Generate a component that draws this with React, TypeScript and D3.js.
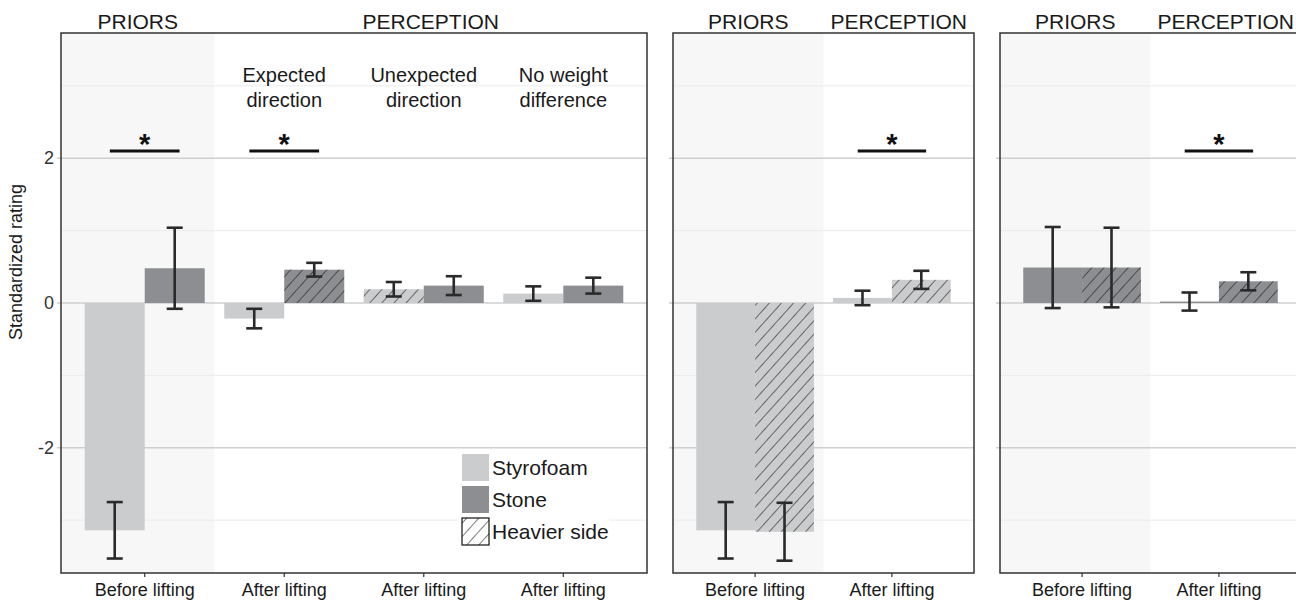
import { useEffect, useRef } from "react";
import * as d3 from "d3";

// panel 1: object type x phase
const P1_CATS = ["Before lifting", "After lifting", "After lifting", "After lifting"];
const P1_SUB = ["", "Expected\ndirection", "Unexpected\ndirection", "No weight\ndifference"];
const P1_STYRO = [-3.14, -0.215, 0.19, 0.13];
const P1_STYRO_SE = [0.39, 0.135, 0.1, 0.1];
const P1_STONE = [0.48, 0.46, 0.24, 0.24];
const P1_STONE_SE = [0.56, 0.095, 0.13, 0.11];
const P1_STYRO_HATCH = [false, false, true, false];
const P1_STONE_HATCH = [false, true, false, false];
const P1_SIG = [0, 1];

// panel 2: styrofoam, light vs heavier side
const P2_CATS = ["Before lifting", "After lifting"];
const P2_LIGHT = [-3.14, 0.07];
const P2_LIGHT_SE = [0.39, 0.1];
const P2_HEAVY = [-3.16, 0.32];
const P2_HEAVY_SE = [0.4, 0.125];
const P2_SIG = [1];

// panel 3: stone, light vs heavier side
const P3_CATS = ["Before lifting", "After lifting"];
const P3_LIGHT = [0.49, 0.02];
const P3_LIGHT_SE = [0.56, 0.125];
const P3_HEAVY = [0.49, 0.3];
const P3_HEAVY_SE = [0.55, 0.125];
const P3_SIG = [1];

const Y_TICKS = [-2, 0, 2];
const Y_MINOR = [-3, -1, 1, 3];
const SIG_Y = 2.1;
const LEGEND = ["Styrofoam", "Stone", "Heavier side"];

const STYRO = "#cbccce";
const STONE = "#8d8e92";
const FONT = "'Liberation Sans', Arial, sans-serif";

type Bar = { cat: number; slot: number; v: number; se: number; fill: string; hatch: boolean };

export default function App() {
  const ref = useRef<SVGSVGElement>(null);

  useEffect(() => {
    const el = ref.current;
    if (!el) return;
    const W = 1296, H = 601, top = 33, bottom = 573;
    const svg = d3.select(el).attr("width", W).attr("height", H);
    svg.selectAll("*").remove();

    const defs = svg.append("defs");
    const pat = defs.append("pattern").attr("id", "hatch").attr("patternUnits", "userSpaceOnUse")
      .attr("width", 9).attr("height", 9).attr("patternTransform", "rotate(42)");
    pat.append("line").attr("x1", 0).attr("y1", 0).attr("x2", 0).attr("y2", 9)
      .attr("stroke", "#111").attr("stroke-width", 1.1);

    const y = d3.scaleLinear().domain([-3.73, 3.73]).range([bottom, top]);

    const mk = (cats: number, a: number[], ae: number[], af: string, ah: boolean[], b: number[], be: number[], bf: string, bh: boolean[]): Bar[] =>
      d3.range(cats).flatMap((i) => [
        { cat: i, slot: 0, v: a[i], se: ae[i], fill: af, hatch: ah[i] },
        { cat: i, slot: 1, v: b[i], se: be[i], fill: bf, hatch: bh[i] },
      ]);

    const panels = [
      { left: 61, right: 647, cats: P1_CATS, sub: P1_SUB, sig: P1_SIG, labels: true,
        bars: mk(4, P1_STYRO, P1_STYRO_SE, STYRO, P1_STYRO_HATCH, P1_STONE, P1_STONE_SE, STONE, P1_STONE_HATCH) },
      { left: 673, right: 974, cats: P2_CATS, sub: [], sig: P2_SIG, labels: false,
        bars: mk(2, P2_LIGHT, P2_LIGHT_SE, STYRO, [false, false], P2_HEAVY, P2_HEAVY_SE, STYRO, [true, true]) },
      { left: 1000, right: 1301, cats: P3_CATS, sub: [], sig: P3_SIG, labels: false,
        bars: mk(2, P3_LIGHT, P3_LIGHT_SE, STONE, [false, false], P3_HEAVY, P3_HEAVY_SE, STONE, [true, true]) },
    ];

    panels.forEach((p) => {
      const x = d3.scaleBand<number>().domain(d3.range(p.cats.length)).range([p.left, p.right])
        .paddingInner(0.14).paddingOuter(0.17);
      const step = x.step();
      const cx = (i: number) => (x(i) ?? 0) + x.bandwidth() / 2;
      const sub = d3.scaleBand<number>().domain([0, 1]).range([0, x.bandwidth()]);
      const split = cx(0) + step / 2;
      const g = svg.append("g");

      g.append("rect").attr("x", p.left).attr("y", top).attr("width", split - p.left).attr("height", bottom - top).attr("fill", "#f7f7f7");

      g.selectAll("line.minor").data(Y_MINOR).join("line")
        .attr("x1", p.left).attr("x2", p.right).attr("y1", (d) => y(d)).attr("y2", (d) => y(d))
        .attr("stroke", "#ebebeb").attr("stroke-width", 1);
      g.selectAll("line.major").data(Y_TICKS).join("line")
        .attr("x1", p.left - 4).attr("x2", p.right).attr("y1", (d) => y(d)).attr("y2", (d) => y(d))
        .attr("stroke", "#cfcfcf").attr("stroke-width", 1.3);

      // bars
      const bx = (d: Bar) => (x(d.cat) ?? 0) + (sub(d.slot) ?? 0);
      const by = (d: Bar) => Math.min(y(d.v), y(0));
      const bh = (d: Bar) => Math.abs(y(d.v) - y(0));
      g.selectAll("rect.bar").data(p.bars).join("rect")
        .attr("x", bx).attr("y", by).attr("width", sub.bandwidth()).attr("height", bh).attr("fill", (d) => d.fill);
      g.selectAll("rect.hatch").data(p.bars.filter((d) => d.hatch)).join("rect")
        .attr("x", bx).attr("y", by).attr("width", sub.bandwidth()).attr("height", bh).attr("fill", "url(#hatch)");

      // error bars
      const ex = (d: Bar) => bx(d) + sub.bandwidth() / 2;
      const eg = g.selectAll("g.err").data(p.bars).join("g").attr("stroke", "#2a2a2a").attr("stroke-width", 2.6);
      eg.append("line").attr("x1", ex).attr("x2", ex).attr("y1", (d) => y(d.v + d.se)).attr("y2", (d) => y(d.v - d.se));
      eg.append("line").attr("x1", (d) => ex(d) - 8).attr("x2", (d) => ex(d) + 8).attr("y1", (d) => y(d.v + d.se)).attr("y2", (d) => y(d.v + d.se));
      eg.append("line").attr("x1", (d) => ex(d) - 8).attr("x2", (d) => ex(d) + 8).attr("y1", (d) => y(d.v - d.se)).attr("y2", (d) => y(d.v - d.se));

      // significance
      g.selectAll("line.sig").data(p.sig).join("line")
        .attr("x1", (d) => cx(d) - step * 0.25).attr("x2", (d) => cx(d) + step * 0.25)
        .attr("y1", y(SIG_Y)).attr("y2", y(SIG_Y)).attr("stroke", "#111").attr("stroke-width", 3);
      g.selectAll("text.sig").data(p.sig).join("text")
        .attr("x", (d) => cx(d)).attr("y", y(SIG_Y) + 3).attr("text-anchor", "middle")
        .attr("font-family", FONT).attr("font-size", 29).attr("font-weight", "bold").attr("fill", "#111").text("*");

      // frame
      g.append("rect").attr("x", p.left).attr("y", top).attr("width", p.right - p.left).attr("height", bottom - top)
        .attr("fill", "none").attr("stroke", "#333").attr("stroke-width", 1.5);

      // x axis
      g.selectAll("line.xt").data(d3.range(p.cats.length)).join("line")
        .attr("x1", cx).attr("x2", cx).attr("y1", bottom).attr("y2", bottom + 4).attr("stroke", "#333").attr("stroke-width", 1.2);
      g.selectAll("text.xl").data(p.cats).join("text")
        .attr("x", (_d, i) => cx(i)).attr("y", bottom + 23).attr("text-anchor", "middle")
        .attr("font-family", FONT).attr("font-size", 18).attr("fill", "#1a1a1a").text((d) => d);

      // strip labels
      const strip = [["PRIORS", (p.left + split) / 2], ["PERCEPTION", (split + p.right) / 2]] as [string, number][];
      g.selectAll("text.strip").data(strip).join("text")
        .attr("x", (d) => d[1]).attr("y", 29).attr("text-anchor", "middle")
        .attr("font-family", FONT).attr("font-size", 21).attr("fill", "#1a1a1a").text((d) => d[0]);

      // sub headings
      p.sub.forEach((s, i) => {
        if (!s) return;
        const t = g.append("text").attr("text-anchor", "middle").attr("font-family", FONT).attr("font-size", 20).attr("fill", "#1a1a1a");
        s.split("\n").forEach((ln, k) => t.append("tspan").attr("x", cx(i)).attr("y", 82 + k * 25).text(ln));
      });

      if (p.labels) {
        g.selectAll("text.yl").data(Y_TICKS).join("text")
          .attr("x", p.left - 7).attr("y", (d) => y(d) + 6).attr("text-anchor", "end")
          .attr("font-family", FONT).attr("font-size", 18).attr("fill", "#333").text((d) => String(d));

        // legend
        const lx = 462, ly = 454, ks = 27, gap = 32;
        const lg = g.append("g");
        lg.append("rect").attr("x", lx - 5).attr("y", ly - 4).attr("width", 152).attr("height", 98).attr("fill", "#fff");
        LEGEND.forEach((name, i) => {
          const yy = ly + i * gap;
          if (i < 2) {
            lg.append("rect").attr("x", lx).attr("y", yy).attr("width", ks).attr("height", ks).attr("fill", i === 0 ? STYRO : STONE);
          } else {
            lg.append("rect").attr("x", lx).attr("y", yy).attr("width", ks).attr("height", ks).attr("fill", "#fff");
            lg.append("rect").attr("x", lx).attr("y", yy).attr("width", ks).attr("height", ks).attr("fill", "url(#hatch)")
              .attr("stroke", "#111").attr("stroke-width", 1.2);
          }
          lg.append("text").attr("x", lx + ks + 3).attr("y", yy + ks / 2 + 7)
            .attr("font-family", FONT).attr("font-size", 21).attr("fill", "#1a1a1a").text(name);
        });
      }
    });

    svg.append("text").attr("transform", `translate(22,262) rotate(-90)`).attr("text-anchor", "middle")
      .attr("font-family", FONT).attr("font-size", 18).attr("fill", "#1a1a1a").text("Standardized rating");
  }, []);

  return <svg ref={ref} style={{ position: "absolute", left: 0, top: 0, background: "#fff" }} />;
}
